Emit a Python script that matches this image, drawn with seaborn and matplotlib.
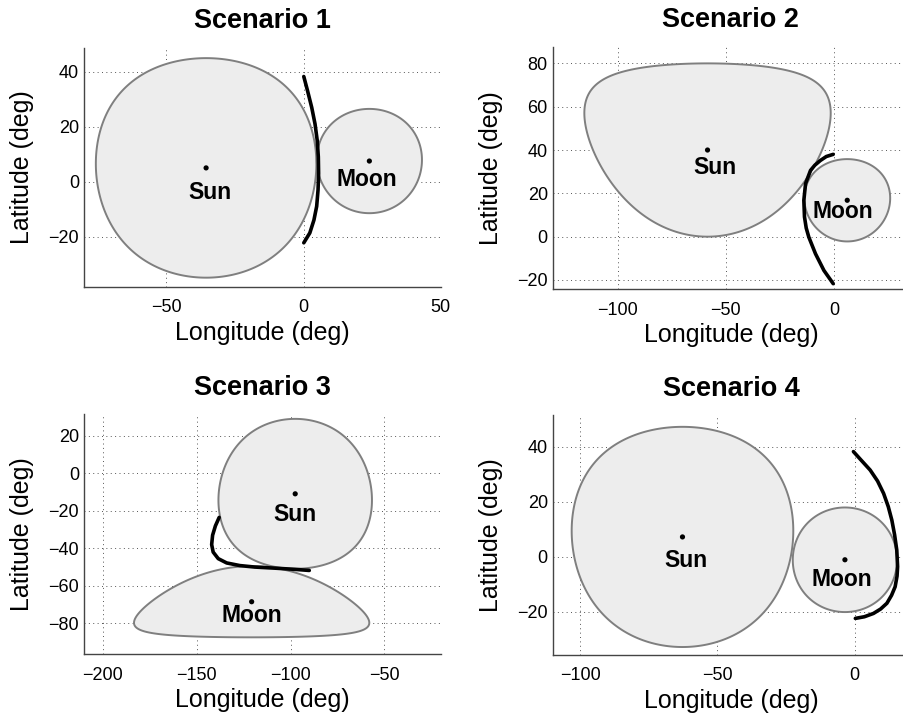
import numpy as np
import pandas as pd
import matplotlib
matplotlib.use("Agg")
import matplotlib.pyplot as plt
import seaborn as sns

# ---- scenario data -------------------------------------------------------
titles = ["Scenario 1", "Scenario 2", "Scenario 3", "Scenario 4"]

# body centres (longitude, latitude) in degrees
sun_lon = [-35.5, -58.5, -97.5, -62.7]
sun_lat = [5.0, 40.0, -10.9, 7.2]
moon_lon = [24.0, 6.2, -120.7, -3.5]
moon_lat = [7.5, 16.8, -68.5, -1.1]

# angular radius of the exclusion cones (deg)
sun_radius = 40.0
moon_radius = 19.0

# boresight trajectories
traj1_lon = [0.1, 1.5, 3.0, 4.2, 5.0, 5.4, 5.5, 5.3, 4.8, 3.8, 2.3, 0.1]
traj1_lat = [38.3, 33, 27, 21, 15, 9, 3, -3, -9, -14, -18.7, -22.3]
traj2_lon = [-0.3, -3.5, -6.2, -8.8, -10.8, -13.1, -13.9, -13.6, -12.8, -11.6, -8.5, -4.6, -0.3]
traj2_lat = [38, 37, 35.2, 33, 30.6, 24.5, 16.8, 9.1, 4, -0.2, -7.9, -15.6, -21.7]
traj3_lon = [-138, -140, -141.5, -142, -141.2, -138.5, -134, -127, -119, -108, -98, -90]
traj3_lat = [-23.5, -28, -33, -38, -42, -45.5, -47.8, -49.2, -50, -50.6, -51.2, -51.8]
traj4_lon = [-0.4, 2.5, 5.7, 8.4, 10.6, 12.3, 13.6, 14.6, 15.4, 15.7, 15.5, 14.8,
             13.5, 11.8, 9.5, 6.9, 3.6, 0.3]
traj4_lat = [38.2, 35, 31.5, 27.5, 23, 18.2, 13.3, 8, 2.4, -3.6, -7, -10.9,
             -14, -16.9, -19, -20.6, -21.8, -22.4]
traj_lon = [traj1_lon, traj2_lon, traj3_lon, traj4_lon]
traj_lat = [traj1_lat, traj2_lat, traj3_lat, traj4_lat]

# axis ticks
xticks = [[-50, 0, 50], [-100, -50, 0], [-200, -150, -100, -50], [-100, -50, 0]]
yticks = [[-20, 0, 20, 40], [-20, 0, 20, 40, 60, 80],
          [-80, -60, -40, -20, 0, 20], [-20, 0, 20, 40]]

# ---- layout ----------------------------------------------------------------
W, H = 904, 717
# axes boxes in pixels: left, right, top, bottom
boxes = [(84, 440.7, 47.7, 287.0), (552.7, 909.0, 46.7, 289.3),
         (84, 440.7, 414.0, 654.0), (552.7, 909.4, 415.0, 655.0)]
xlims = [(-80, 50), (-130.2, 34.8), (-210, -20), (-110, 20)]
ylims = [(-38.4, 48.8), (-24.3, 87.7), (-96.4, 31.7), (-35.7, 51.5)]
sun_text = [(-34.0, -3.9), (-54.9, 31.9), (-97.7, -22.0), (-61.3, -1.2)]
moon_text = [(23.2, 0.9), (4.2, 11.8), (-120.4, -75.9), (-4.6, -8.1)]


def small_circle(lon0, lat0, radius, n=721):
    """Outline of a cone of given angular radius around (lon0, lat0)."""
    az = np.radians(np.linspace(0.0, 360.0, n))
    p0 = np.radians(lat0)
    r = np.radians(radius)
    lat = np.arcsin(np.sin(p0) * np.cos(r) + np.cos(p0) * np.sin(r) * np.cos(az))
    dlon = np.arctan2(np.sin(az) * np.sin(r) * np.cos(p0),
                      np.cos(r) - np.sin(p0) * np.sin(lat))
    return lon0 + np.degrees(dlon), np.degrees(lat)


sns.set_theme(style="white")
plt.rcParams["font.family"] = ["Liberation Sans", "DejaVu Sans"]
plt.rcParams["text.color"] = "black"
plt.rcParams["axes.labelcolor"] = "black"
plt.rcParams["xtick.color"] = "black"
plt.rcParams["ytick.color"] = "black"

fig = plt.figure(figsize=(W / 100, H / 100), dpi=100)

fill_col = "#ededed"
edge_col = "#7f7f7f"
axis_col = "#444444"

for k in range(4):
    l, r, t, b = boxes[k]
    ax = fig.add_axes([l / W, 1 - b / H, (r - l) / W, (b - t) / H])
    ax.set_facecolor("white")
    ax.set_axisbelow(True)

    for lon0, lat0, rad in ((sun_lon[k], sun_lat[k], sun_radius),
                            (moon_lon[k], moon_lat[k], moon_radius)):
        cx, cy = small_circle(lon0, lat0, rad)
        ax.fill(cx, cy, facecolor=fill_col, edgecolor=edge_col, lw=1.4, zorder=2)

    df = pd.DataFrame({"lon": traj_lon[k], "lat": traj_lat[k]})
    sns.lineplot(data=df, x="lon", y="lat", sort=False, estimator=None,
                 color="black", lw=2.6, ax=ax, zorder=3,
                 solid_capstyle="round")

    centres = pd.DataFrame({"lon": [sun_lon[k], moon_lon[k]],
                            "lat": [sun_lat[k], moon_lat[k]]})
    sns.scatterplot(data=centres, x="lon", y="lat", color="black", s=14,
                    edgecolor="none", ax=ax, zorder=4)

    ax.text(*sun_text[k], "Sun", ha="center", va="center", fontsize=16.5,
            fontweight="bold", color="black", zorder=5)
    ax.text(*moon_text[k], "Moon", ha="center", va="center", fontsize=16.5,
            fontweight="bold", color="black", zorder=5)

    ax.set_xlim(*xlims[k])
    ax.set_ylim(*ylims[k])
    ax.set_xticks(xticks[k])
    ax.set_yticks(yticks[k])
    ax.grid(True, color="#555555", linestyle=(0, (1, 3.5)), lw=0.7)

    for side in ("top", "right"):
        ax.spines[side].set_visible(False)
    for side in ("left", "bottom"):
        ax.spines[side].set_color(axis_col)
        ax.spines[side].set_linewidth(1.0)

    ax.tick_params(axis="both", direction="in", length=3, width=0.8,
                   color=axis_col, labelsize=13, labelcolor="black")
    ax.tick_params(axis="x", pad=9)
    ax.tick_params(axis="y", pad=3.5)

    ax.set_xlabel("Longitude (deg)", fontsize=18, labelpad=3)
    ax.set_ylabel("Latitude (deg)", fontsize=18)
    ax.yaxis.set_label_coords(-0.14, 0.5)
    ax.set_title(titles[k], fontsize=19.5, fontweight="bold", pad=14,
                 color="black")

fig.savefig("out.png", dpi=100)
